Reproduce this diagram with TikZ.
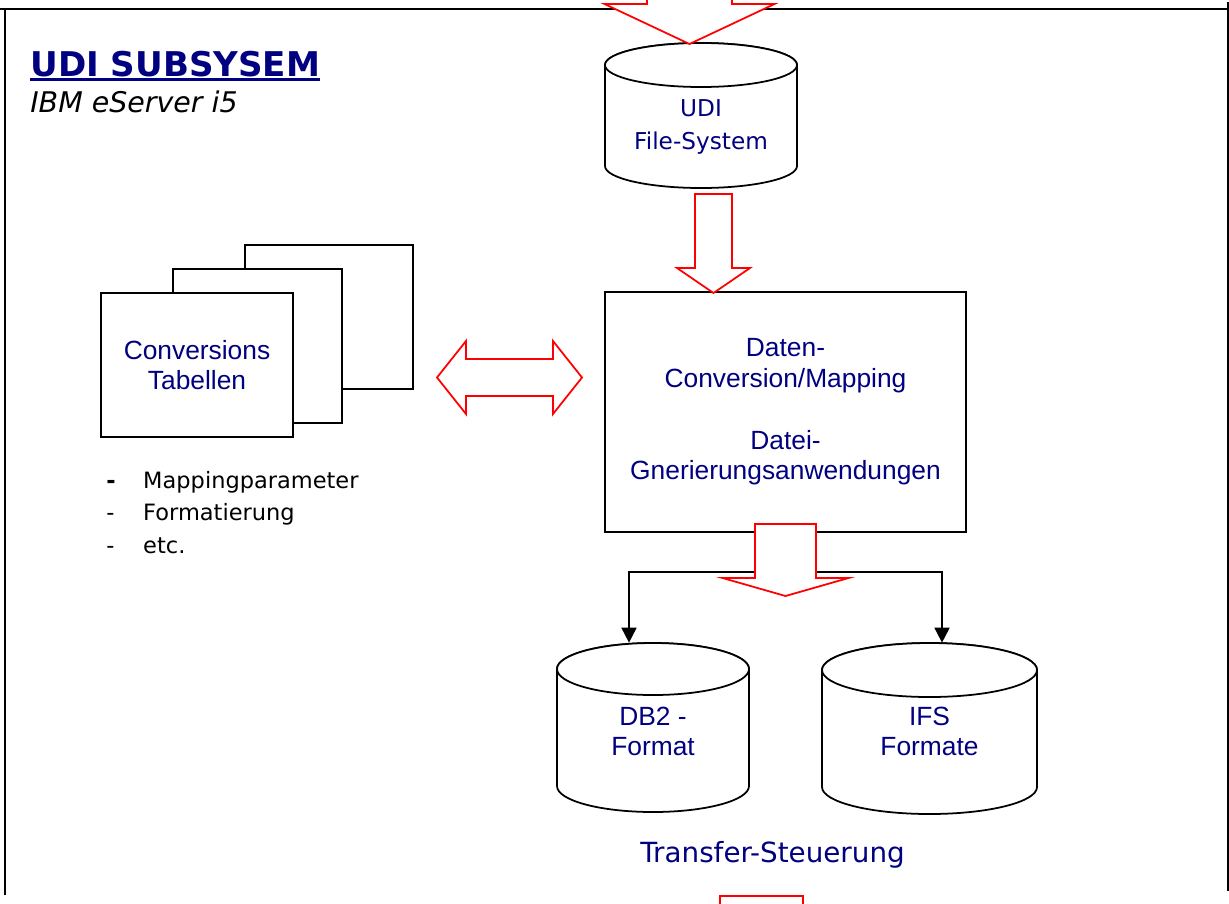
\documentclass[tikz,border=0pt]{standalone}
\usepackage{fontspec}
\setmainfont{DejaVu Sans}
\newfontfamily\arialfont{Liberation Sans}
\usetikzlibrary{arrows.meta,calc}

\definecolor{navy}{RGB}{0,0,128}
\definecolor{udired}{RGB}{255,0,0}
\def\pxu{0.02cm}

\tikzset{
  frame/.style={line width=1.1pt},
  page/.style={draw,line width=1pt,fill=white,inner sep=0pt},
  bluetext/.style={text=navy,align=center,inner sep=0pt,
    font=\arialfont\fontsize{15}{17.5}\selectfont},
  udifont/.style={font=\fontsize{13.2}{18.8}\selectfont},
  cyl/.style={line width=1pt,fill=white},
  bigarrow/.style={draw=udired,line width=1pt,fill=white,line join=miter},
  conn/.style={line width=1pt,-{Triangle[width=8.5pt,length=8.5pt]}}
}

% Blockpfeil nach unten: cx, oben, Hals, Spitze, halbe Schaftbreite, halbe Kopfbreite
\newcommand\blockdown[6]{%
  \draw[bigarrow] (#1-#5,#2) -- (#1-#5,#3) -- (#1-#6,#3) -- (#1,#4)
    -- (#1+#6,#3) -- (#1+#5,#3) -- (#1+#5,#2) -- cycle;
}
% Zylinder: Name, cx, oben, unten, rx, ry, Text, Text-y, Textstil
\newcommand\cylinderat[9]{%
  \draw[cyl] (#2-#5,#3+#6) -- (#2-#5,#4-#6)
    arc[start angle=180,end angle=0,x radius=#5,y radius=#6]
    -- (#2+#5,#3+#6) arc[start angle=0,end angle=-180,x radius=#5,y radius=#6] -- cycle;
  \draw[cyl] (#2,#3+#6) ellipse[x radius=#5,y radius=#6];
  \node[inner sep=0pt,minimum width=2*#5*\pxu,minimum height=(#4-#3)*\pxu] (#1) at (#2,{(#3+#4)/2}) {};
  \node[bluetext,#9] (#1-text) at (#2,#8) {#7};
}

\begin{document}
\begin{tikzpicture}[x={(0.02cm,0)},y={(0,-0.02cm)}]
  \useasboundingbox (0,0) rectangle (1229,903);
  % Rahmen
  \draw[frame] (0,9) -- (1229,9);
  \draw[frame] (5,9) -- (5,895);
  \draw[frame] (1228,2) -- (1228,891);
  % Titel
  \node[anchor=base west,inner sep=0pt,text=navy,font=\bfseries\fontsize{19.4}{22}\selectfont] (title) at (30,76) {UDI SUBSYSEM};
  \draw[navy,line width=1.6pt] ([yshift=-2.2pt]title.base west) -- ([yshift=-2.2pt]title.base east);
  \node[anchor=base west,inner sep=0pt,font=\itshape\fontsize{16.2}{19}\selectfont] (subtitle) at (30,112) {IBM eServer i5};
  % Tabellen (Stapel)
  \node[page,minimum width=168*\pxu,minimum height=144*\pxu] (page3) at (329,317) {};
  \node[page,minimum width=169*\pxu,minimum height=154*\pxu] (page2) at (257.5,346) {};
  \node[page,bluetext,minimum width=192*\pxu,minimum height=144*\pxu] (tables) at (197,365) {Conversions\\Tabellen};
  \node[anchor=base west,inner sep=0pt,align=left,font=\fontsize{12.8}{18.5}\selectfont] (params) at (106,553)
    {\makebox[21pt][l]{\textbf{-}}Mappingparameter\\\makebox[21pt][l]{-}Formatierung\\\makebox[21pt][l]{-}etc.};
  % Verarbeitung
  \node[page,bluetext,minimum width=361*\pxu,minimum height=240*\pxu] (mapping) at (785.5,412)
    {Daten-\\Conversion/Mapping\\[17.5pt]Datei-\\Gnerierungsanwendungen};
  % Verbinder zu den Formaten
  \coordinate (split) at (786,572);
  \cylinderat{udifs}{701}{43}{188}{96}{22}{UDI\\File-System}{126.5}{udifont}
  \cylinderat{db2}{653}{643}{812}{96}{26}{DB2 -\\Format}{731.5}{}
  \cylinderat{ifs}{929.5}{643}{814}{107.5}{27}{IFS\\Formate}{731.5}{}
  \draw[conn] (split) -| ($(db2.north)+(-24,0)$);
  \draw[conn] (split) -| ($(ifs.north)+(12.5,0)$);
  \node[anchor=base,inner sep=0pt,text=navy,font=\fontsize{15.8}{18}\selectfont] (transfer) at (772.5,862) {Transfer-Steuerung};
  % rote Blockpfeile
  \blockdown{689.5}{-20}{4}{44}{42.5}{85}
  \blockdown{713.5}{194}{268}{293}{18.5}{36.5}
  \blockdown{785.5}{524}{578}{596}{30.5}{63}
  \blockdown{761.5}{896}{960}{990}{41.5}{80}
  \draw[bigarrow] (437,377.5) -- (466,341) -- (466,359) -- (553,359) -- (553,341) -- (582,377.5)
    -- (553,414) -- (553,396) -- (466,396) -- (466,414) -- cycle;
\end{tikzpicture}
\end{document}
